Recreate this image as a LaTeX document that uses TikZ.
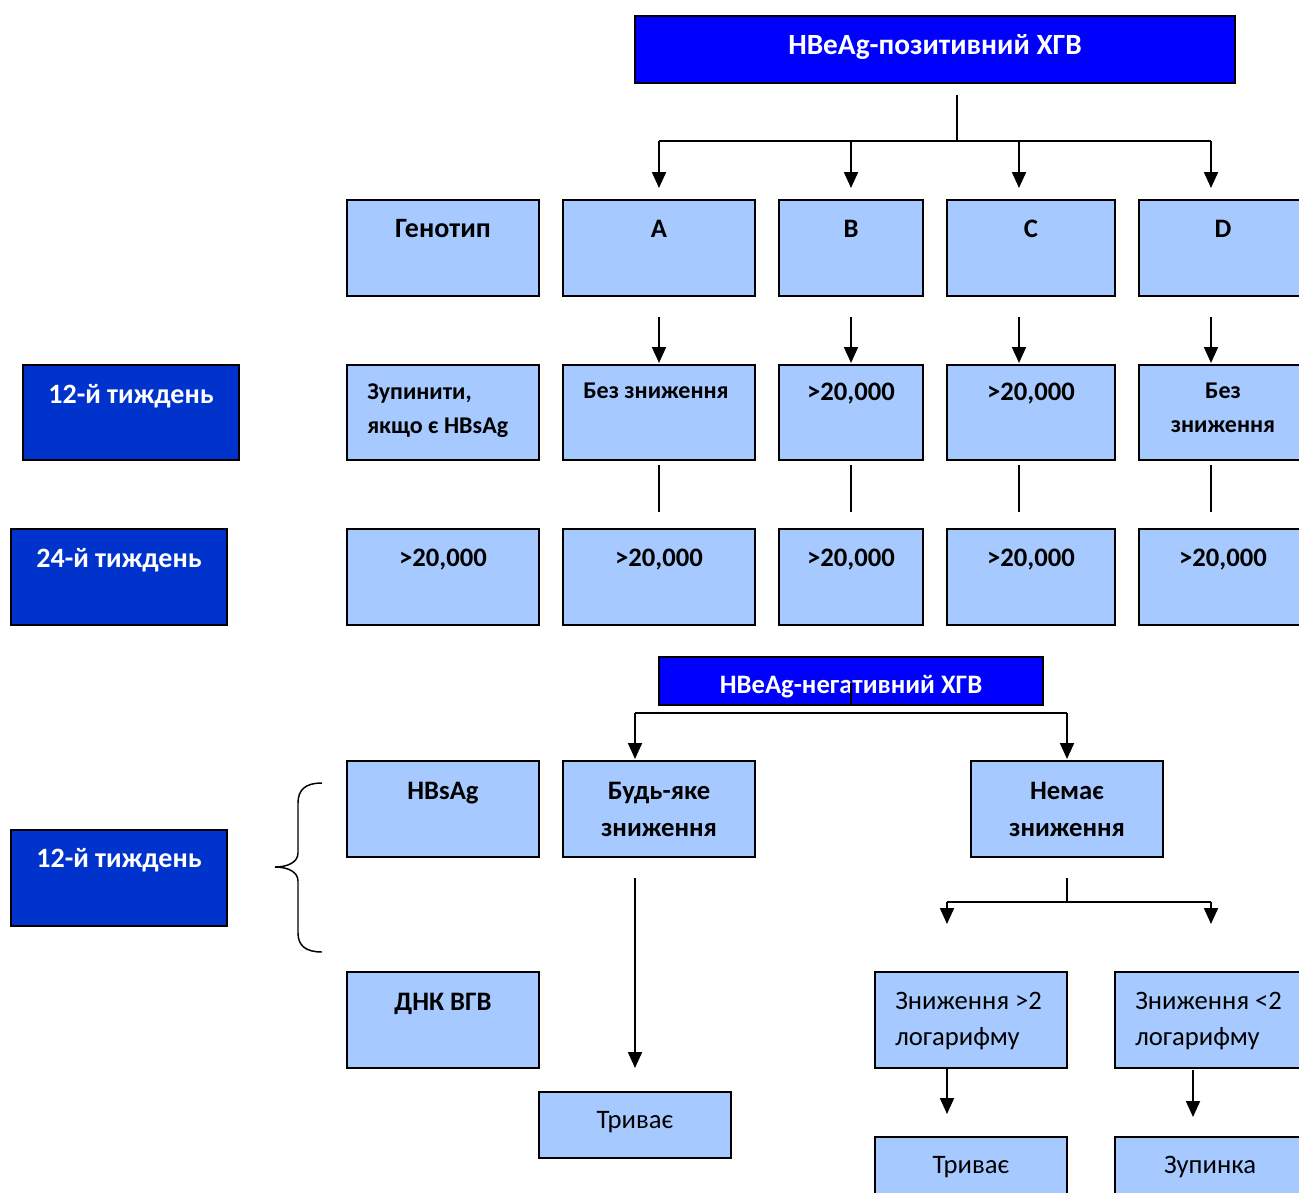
\documentclass[tikz,border=0pt]{standalone}
\usepackage{fontspec}
\setmainfont{Carlito}
\usetikzlibrary{arrows.meta,fit,calc}
\definecolor{titleblue}{RGB}{0,0,255}
\definecolor{weekblue}{RGB}{0,51,204}
\definecolor{lightb}{RGB}{166,202,255}
\tikzset{
  bx/.style={draw=black, line width=1.2pt, inner sep=0pt},
  lbox/.style={bx, fill=lightb},
  wbox/.style={bx, fill=weekblue},
  tbox/.style={bx, fill=titleblue},
  tb/.style={anchor=base, inner sep=0pt, font=\bfseries\fontsize{20}{24}\selectfont},
  tbs/.style={tb, font=\bfseries\fontsize{18}{22}\selectfont},
  tbl/.style={tbs, anchor=base west},
  tw/.style={tb, text=white, font=\bfseries\fontsize{21}{24}\selectfont},
  tr/.style={anchor=base, inner sep=0pt, font=\fontsize{20}{24}\selectfont},
  trl/.style={tr, anchor=base west},
  conn/.style={line width=1.5pt},
  thin/.style={line width=1.1pt},
  arr/.style={conn, -{Triangle[width=10.5pt,length=12pt]}},
}
\begin{document}
\begin{tikzpicture}[x=0.75pt,y=-0.75pt]
\path[use as bounding box, clip] (0,0) rectangle (1299,1192);
\fill[white] (0,0) rectangle (1299,1192);
% ---------- positive part
\node[tbox, fit={(635,16) (1235,83)}] (pos) {};
\node[tw, font=\bfseries\fontsize{22}{24}\selectfont] (pos-t) at (935,54) {HBeAg-позитивний ХГВ};
% row 1
\node[lbox, fit={(347,200) (539,296)}] (gen) {};
\node[lbox, fit={(563,200) (755,296)}] (ga) {};
\node[lbox, fit={(779,200) (923,296)}] (gb) {};
\node[lbox, fit={(947,200) (1115,296)}] (gc) {};
\node[lbox, fit={(1139,200) (1307,296)}] (gd) {};
\node[tb, font=\bfseries\fontsize{21}{24}\selectfont] (gen-t) at (443,237) {Генотип};
\node[tb] (ga-t) at (659,237) {A};
\node[tb] (gb-t) at (851,237) {B};
\node[tb] (gc-t) at (1031,237) {C};
\node[tb] (gd-t) at (1223,237) {D};
% row 2
\node[wbox, fit={(23,365) (239,460)}] (w12) {};
\node[tw] (w12-t) at (131,403) {12-й тиждень};
\node[lbox, fit={(347,365) (539,460)}] (s1) {};
\node[lbox, fit={(563,365) (755,460)}] (s2) {};
\node[lbox, fit={(779,365) (923,460)}] (s3) {};
\node[lbox, fit={(947,365) (1115,460)}] (s4) {};
\node[lbox, fit={(1139,365) (1307,460)}] (s5) {};
\node[tbl] (s1-t1) at (367,399) {Зупинити,};
\node[tbl] (s1-t2) at (367,433) {якщо є HBsAg};
\node[tbs] (s2-t) at (656,398) {Без зниження};
\node[tb] (s3-t) at (851,400) {>20,000};
\node[tb] (s4-t) at (1031,400) {>20,000};
\node[tbs] (s5-t1) at (1223,398) {Без};
\node[tbs] (s5-t2) at (1223,432) {зниження};
% row 3
\node[wbox, fit={(11,529) (227,625)}] (w24) {};
\node[tw] (w24-t) at (119,567) {24-й тиждень};
\node[lbox, fit={(347,529) (539,625)}] (v1) {};
\node[lbox, fit={(563,529) (755,625)}] (v2) {};
\node[lbox, fit={(779,529) (923,625)}] (v3) {};
\node[lbox, fit={(947,529) (1115,625)}] (v4) {};
\node[lbox, fit={(1139,529) (1307,625)}] (v5) {};
\node[tb] (v1-t) at (443,566) {>20,000};
\node[tb] (v2-t) at (659,566) {>20,000};
\node[tb] (v3-t) at (851,566) {>20,000};
\node[tb] (v4-t) at (1031,566) {>20,000};
\node[tb] (v5-t) at (1223,566) {>20,000};
% connectors positive
\coordinate (p0) at (957,95);
\coordinate (p1) at (957,141);
\foreach \n/\x in {a/659,b/851,c/1019,d/1211}{
  \coordinate (h\n) at (\x,141);
  \coordinate (e\n) at (\x,188);
  \coordinate (f\n) at (\x,317);
  \coordinate (g\n) at (\x,363);
  \coordinate (k\n) at (\x,465);
  \coordinate (m\n) at (\x,512);
}
\draw[conn] (p0) -- (p1);
\draw[conn] (ha) -- (hd);
\foreach \n in {a,b,c,d}{
  \draw[arr] (h\n) -- (e\n);
  \draw[arr] (f\n) -- (g\n);
  \draw[thin] (k\n) -- (m\n);
}
% ---------- negative part
\node[tbox, fit={(659,657) (1043,705)}] (neg) {};
\node[tw, font=\bfseries\fontsize{20}{24}\selectfont] (neg-t) at (851,693) {HBeAg-негативний ХГВ};
\coordinate (n0) at (851,683);
\draw[thin] (n0) -- (neg.south);
\coordinate (nl) at (635,713);
\coordinate (nr) at (1067,713);
\coordinate (nl2) at (635,759);
\coordinate (nr2) at (1067,759);
\draw[conn] (nl) -- (nr);
\draw[arr] (nl) -- (nl2);
\draw[arr] (nr) -- (nr2);
\node[lbox, fit={(347,761) (539,857)}] (hbs) {};
\node[lbox, fit={(563,761) (755,857)}] (any) {};
\node[lbox, fit={(971,761) (1163,857)}] (none) {};
\node[tb] (hbs-t) at (443,799) {HBsAg};
\node[tb] (any-t1) at (659,799) {Будь-яке};
\node[tb] (any-t2) at (659,836) {зниження};
\node[tb] (none-t1) at (1067,799) {Немає};
\node[tb] (none-t2) at (1067,836) {зниження};
\node[wbox, fit={(11,830) (227,926)}] (w12b) {};
\node[tw] (w12b-t) at (119,867) {12-й тиждень};
% brace
\coordinate (br1) at (322,783);
\coordinate (br2) at (275,867);
\coordinate (br3) at (322,952);
\draw[thin] (br1) .. controls (305,783) and (298,790) .. (298,803) -- (298,853)
  .. controls (298,862) and (288,867) .. (br2)
  .. controls (288,867) and (298,872) .. (298,881) -- (298,933)
  .. controls (298,945) and (305,952) .. (br3);
\node[lbox, fit={(347,972) (539,1068)}] (dna) {};
\node[tb] (dna-t) at (443,1010) {ДНК ВГВ};
\coordinate (a0) at (635,878);
\coordinate (a1) at (635,1068);
\draw[arr] (a0) -- (a1);
\node[lbox, fit={(539,1092) (731,1158)}] (cont1) {};
\node[tr] (cont1-t) at (635,1128) {Триває};
% right branch
\coordinate (b0) at (1067,878);
\coordinate (b1) at (1067,902);
\coordinate (bl) at (947,902);
\coordinate (br) at (1211,902);
\coordinate (bl2) at (947,924);
\coordinate (br2b) at (1211,924);
\draw[conn] (b0) -- (b1);
\draw[conn] (bl) -- (br);
\draw[arr] (bl) -- (bl2);
\draw[arr] (br) -- (br2b);
\node[lbox, fit={(875,972) (1067,1068)}] (gt2) {};
\node[lbox, fit={(1115,972) (1307,1068)}] (lt2) {};
\node[trl] (gt2-t1) at (895,1009) {Зниження >2};
\node[trl] (gt2-t2) at (895,1045) {логарифму};
\node[trl] (lt2-t1) at (1135,1009) {Зниження <2};
\node[trl] (lt2-t2) at (1135,1045) {логарифму};
\coordinate (c0) at (947,1068);
\coordinate (c1) at (947,1114);
\coordinate (d0) at (1193,1070);
\coordinate (d1) at (1193,1117);
\draw[arr] (c0) -- (c1);
\draw[arr] (d0) -- (d1);
\node[lbox, fit={(875,1137) (1067,1230)}] (cont2) {};
\node[lbox, fit={(1115,1137) (1307,1230)}] (stop) {};
\node[tr] (cont2-t) at (971,1173) {Триває};
\node[tr] (stop-t) at (1210,1173) {Зупинка};
\end{tikzpicture}
\end{document}
